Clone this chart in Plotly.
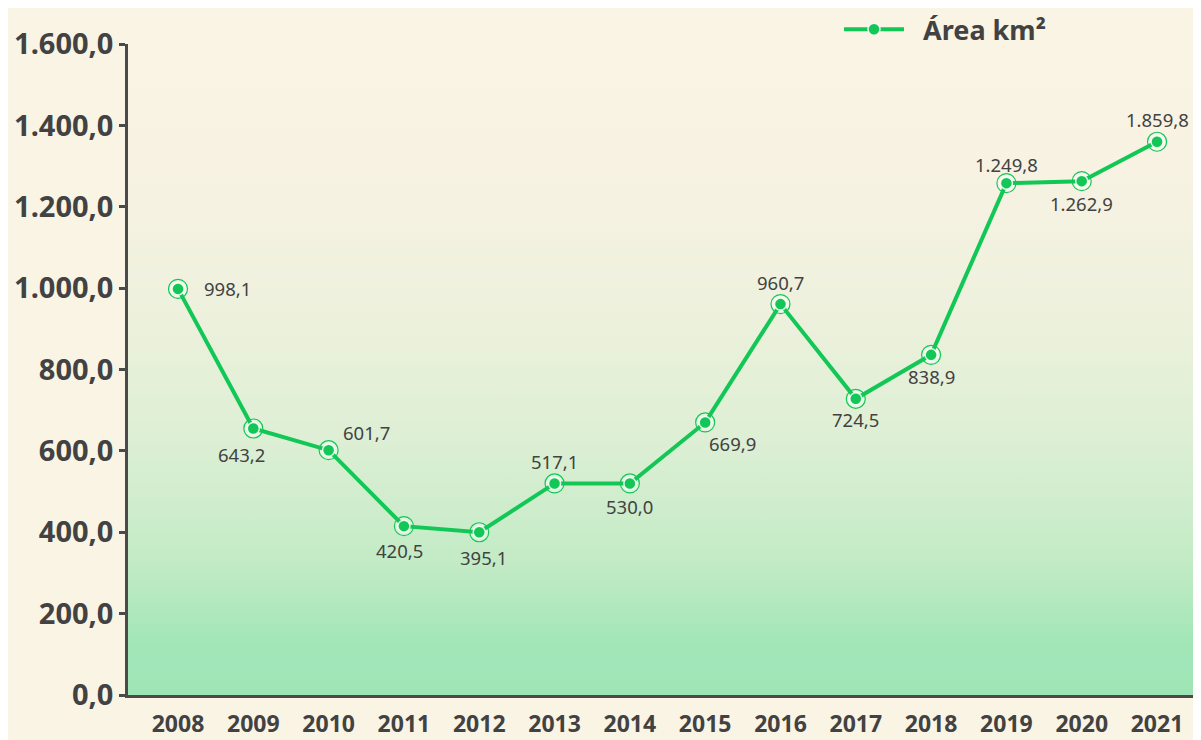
import plotly.graph_objects as go

# ---- data ----
years = [2008, 2009, 2010, 2011, 2012, 2013, 2014, 2015, 2016, 2017, 2018, 2019, 2020, 2021]
area_km2 = [998.1, 655.0, 601.7, 415.0, 400.0, 520.0, 520.0, 669.9, 960.7, 728.0, 836.0, 1258.0, 1262.9, 1359.8]
label_text = ["998,1", "643,2", "601,7", "420,5", "395,1", "517,1", "530,0",
              "669,9", "960,7", "724,5", "838,9", "1.249,8", "1.262,9", "1.859,8"]
y_ticks = [0, 200, 400, 600, 800, 1000, 1200, 1400, 1600]
series_name = "Área km²"

# ---- style ----
GREEN = "#12C756"
TEXT = "#424242"
AXIS = "#4a4a4a"
BG = "#FAF4E5"
FONT = "Noto Sans"

# label offsets (pixels) per point
label_shift = [(49, 0), (-12, -26), (38, 18), (-4, -24), (4, -25), (0, 22), (0, -23),
               (27, -21), (0, 22), (0, -21), (0, -22), (0, 19), (0, -22), (0, 22)]

x_lo, x_hi = 2007.336, 2021.544
y_lo, y_hi = 0, 1600

fig = go.Figure()

# gradient plot background
fig.add_trace(go.Scatter(
    x=[x_lo, x_hi], y=[y_hi, y_hi], mode="lines", line=dict(width=0),
    fill="tozeroy",
    fillgradient=dict(type="vertical",
                      colorscale=[[0.0, "#9EE5B6"], [0.08, "#A2E6B8"], [0.2, "#C2EBC5"],
                                  [0.4, "#DEEFD5"], [0.6, "#EEF1DD"], [0.8, "#F7F2E2"],
                                  [1.0, BG]]),
    hoverinfo="skip", showlegend=False))

# ring around markers
fig.add_trace(go.Scatter(
    x=years, y=area_km2, mode="markers",
    marker=dict(size=19, color="rgba(255,255,255,0.35)", line=dict(color=GREEN, width=1.2)),
    hoverinfo="skip", showlegend=False))

# main line
fig.add_trace(go.Scatter(
    x=years, y=area_km2, mode="lines+markers", name="\u00a0\u00a0" + series_name,
    line=dict(color=GREEN, width=4),
    marker=dict(size=12, color=GREEN, line=dict(color="rgba(255,255,255,0.85)", width=1.5))))

annotations = []
for x, y, t, (dx, dy) in zip(years, area_km2, label_text, label_shift):
    annotations.append(dict(x=x, y=y, text=t, showarrow=False, xshift=dx, yshift=dy,
                            font=dict(family=FONT, size=18.5, color=TEXT)))

fig.update_layout(
    width=1201, height=740,
    margin=dict(l=120, r=11, t=36, b=53, autoexpand=False),
    paper_bgcolor=BG, plot_bgcolor=BG,
    separators=",.",
    annotations=annotations,
    legend=dict(x=0.6645, y=1.022, xanchor="left", yanchor="middle", orientation="h",
                bgcolor="rgba(0,0,0,0)", itemwidth=60,
                font=dict(family=FONT, size=27, color=TEXT, weight="bold")),
    xaxis=dict(range=[x_lo, x_hi], tickmode="array", tickvals=years,
               ticktext=[str(y) for y in years], automargin=False,
               showgrid=False, zeroline=False, showline=True, linecolor=AXIS, linewidth=3,
               ticks="outside", ticklen=6, tickcolor="rgba(0,0,0,0)",
               tickfont=dict(family=FONT, size=23, color=TEXT, weight="bold")),
    yaxis=dict(range=[y_lo, y_hi], tickmode="array", tickvals=y_ticks, tickformat=",.1f",
               automargin=False,
               showgrid=False, zeroline=False, showline=True, linecolor=AXIS, linewidth=2.5,
               ticks="outside", ticklen=6, tickwidth=2.5, tickcolor=AXIS,
               tickfont=dict(family=FONT, size=29, color=TEXT, weight="bold")),
)

fig.write_html("out.html")
